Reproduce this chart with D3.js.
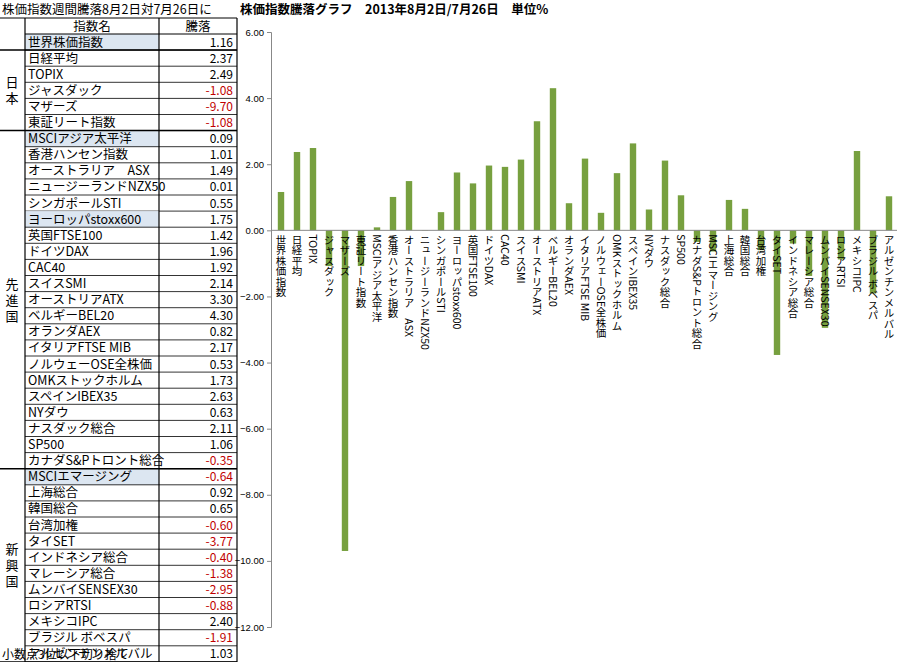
<!DOCTYPE html>
<html><head><meta charset="utf-8">
<script src="https://cdn.jsdelivr.net/npm/d3@7"></script>
<style>
body{margin:0;background:#fff;font-family:"Noto Sans CJK JP",sans-serif}
</style></head><body>
<svg id="c" width="900" height="662"></svg>
<script>
const names = ['世界株価指数','日経平均','TOPIX','ジャスダック','マザーズ','東証リート指数',
  'MSCIアジア太平洋','香港ハンセン指数','オーストラリア　ASX','ニュージーランドNZX50','シンガポールSTI',
  'ヨーロッパstoxx600','英国FTSE100','ドイツDAX','CAC40','スイスSMI','オーストリアATX','ベルギーBEL20',
  'オランダAEX','イタリアFTSE MIB','ノルウェーOSE全株価','OMKストックホルム','スペインIBEX35','NYダウ',
  'ナスダック総合','SP500','カナダS&Pトロント総合','MSCIエマージング','上海総合','韓国総合','台湾加権',
  'タイSET','インドネシア総合','マレーシア総合','ムンバイSENSEX30','ロシアRTSI','メキシコIPC',
  'ブラジル ボベスパ','アルゼンチンメルバル']
const values = [1.16,2.37,2.49,-1.08,-9.70,-1.08,0.09,1.01,1.49,0.01,0.55,1.75,1.42,1.96,1.92,2.14,
  3.30,4.30,0.82,2.17,0.53,1.73,2.63,0.63,2.11,1.06,-0.35,-0.64,0.92,0.65,-0.60,-3.77,-0.40,-1.38,
  -2.95,-0.88,2.40,-1.91,1.03]
const highlighted = ['世界株価指数','MSCIアジア太平洋','ヨーロッパstoxx600','MSCIエマージング']
const groups = [{name:'日本', from:1, to:6}, {name:'先進国', from:6, to:27}, {name:'新興国', from:27, to:39}]
const yTicks = d3.range(-12, 6.01, 2)

const svg = d3.select('#c')
const font = '"Noto Sans CJK JP", sans-serif'

// ---- table ----
const tx = [1, 25, 159, 237]
const rowH = 16.1, tableTop = 34
const rowY = (i) => tableTop + i * rowH
svg.append('text').attr('x', 2).attr('y', 14).attr('font-size', 12.5).attr('font-family', font)
  .text('株価指数週間騰落8月2日対7月26日に')
svg.append('line').attr('x1', 0).attr('x2', tx[3]).attr('y1', 18).attr('y2', 18).attr('stroke', '#000')
svg.append('text').attr('x', (tx[1] + tx[2]) / 2).attr('y', 31).attr('text-anchor', 'middle')
  .attr('font-size', 12.5).attr('font-family', font).text('指数名')
svg.append('text').attr('x', (tx[2] + tx[3]) / 2).attr('y', 31).attr('text-anchor', 'middle')
  .attr('font-size', 12.5).attr('font-family', font).text('騰落')

const rows = svg.append('g')
names.forEach((n, i) => {
  const y = rowY(i)
  if (highlighted.includes(n)) {
    rows.append('rect').attr('x', tx[1]).attr('y', y).attr('width', tx[2] - tx[1]).attr('height', rowH).attr('fill', '#dce6f1')
  }
  rows.append('text').attr('x', tx[1] + 3).attr('y', y + 12.5).attr('font-size', 12.5).attr('font-family', font).text(n)
  rows.append('text').attr('x', tx[3] - 4).attr('y', y + 12.5).attr('text-anchor', 'end')
    .attr('font-size', 12).attr('font-family', font)
    .attr('fill', values[i] < 0 ? '#c00000' : '#000').text(values[i].toFixed(2))
  rows.append('line').attr('x1', tx[1]).attr('x2', tx[3]).attr('y1', y + rowH).attr('y2', y + rowH)
    .attr('stroke', '#000').attr('stroke-width', 0.8)
})
rows.append('line').attr('x1', tx[1]).attr('x2', tx[3]).attr('y1', tableTop).attr('y2', tableTop).attr('stroke', '#000')
tx.forEach((x, k) => {
  if (k === 0) return
  svg.append('line').attr('x1', x).attr('x2', x).attr('y1', 18).attr('y2', rowY(names.length))
    .attr('stroke', '#000').attr('stroke-width', 1.2)
})
groups.forEach(g => {
  const y0 = rowY(g.from), y1 = rowY(g.to)
  svg.append('line').attr('x1', 0).attr('x2', tx[3]).attr('y1', y0).attr('y2', y0).attr('stroke', '#000').attr('stroke-width', 1.5)
  const chars = g.name.split('')
  const mid = (y0 + y1) / 2
  chars.forEach((ch, k) => {
    svg.append('text').attr('x', 12).attr('y', mid + (k - (chars.length - 1) / 2) * 16 + 5)
      .attr('text-anchor', 'middle').attr('font-size', 13).attr('font-family', font).text(ch)
  })
})
svg.append('line').attr('x1', 0).attr('x2', tx[3]).attr('y1', rowY(names.length)).attr('y2', rowY(names.length)).attr('stroke', '#000').attr('stroke-width', 1.5)
svg.append('text').attr('x', 2).attr('y', 659).attr('font-size', 12).attr('font-family', font).text('小数点3位以下切り捨て')

// ---- chart ----
const x = d3.scaleBand().domain(names).range([273, 897]).paddingInner(0.6).paddingOuter(0.3)
const y = d3.scaleLinear().domain([-12, 6]).range([627, 32])

svg.append('text').attr('x', 240).attr('y', 14).attr('font-size', 12.5).attr('font-weight', 'bold')
  .attr('font-family', font).text('株価指数騰落グラフ　2013年8月2日/7月26日　単位%')

const yAxis = svg.append('g').attr('transform', 'translate(271,0)')
  .call(d3.axisLeft(y).tickValues(yTicks).tickFormat(d3.format('.2f')).tickSize(4))
yAxis.selectAll('text').attr('font-size', 9.5).attr('font-family', '"Liberation Sans", sans-serif')
yAxis.selectAll('path,line').attr('stroke', '#888')

svg.append('g').selectAll('rect').data(values).enter().append('rect')
  .attr('x', (d, i) => x(names[i]))
  .attr('width', x.bandwidth())
  .attr('y', (d) => y(Math.max(0, d)))
  .attr('height', (d) => Math.abs(y(d) - y(0)))
  .attr('fill', '#77a03f')

svg.append('line').attr('x1', 271).attr('x2', 897).attr('y1', y(0)).attr('y2', y(0)).attr('stroke', '#888')

svg.append('g').selectAll('text').data(names).enter().append('text')
  .attr('x', (d) => x(d) + x.bandwidth() / 2)
  .attr('y', y(0) + 4)
  .attr('font-size', 10.5).attr('font-family', font)
  .style('writing-mode', 'vertical-rl')
  .style('text-orientation', 'mixed')
  .text((d) => d)
</script>
</body></html>
